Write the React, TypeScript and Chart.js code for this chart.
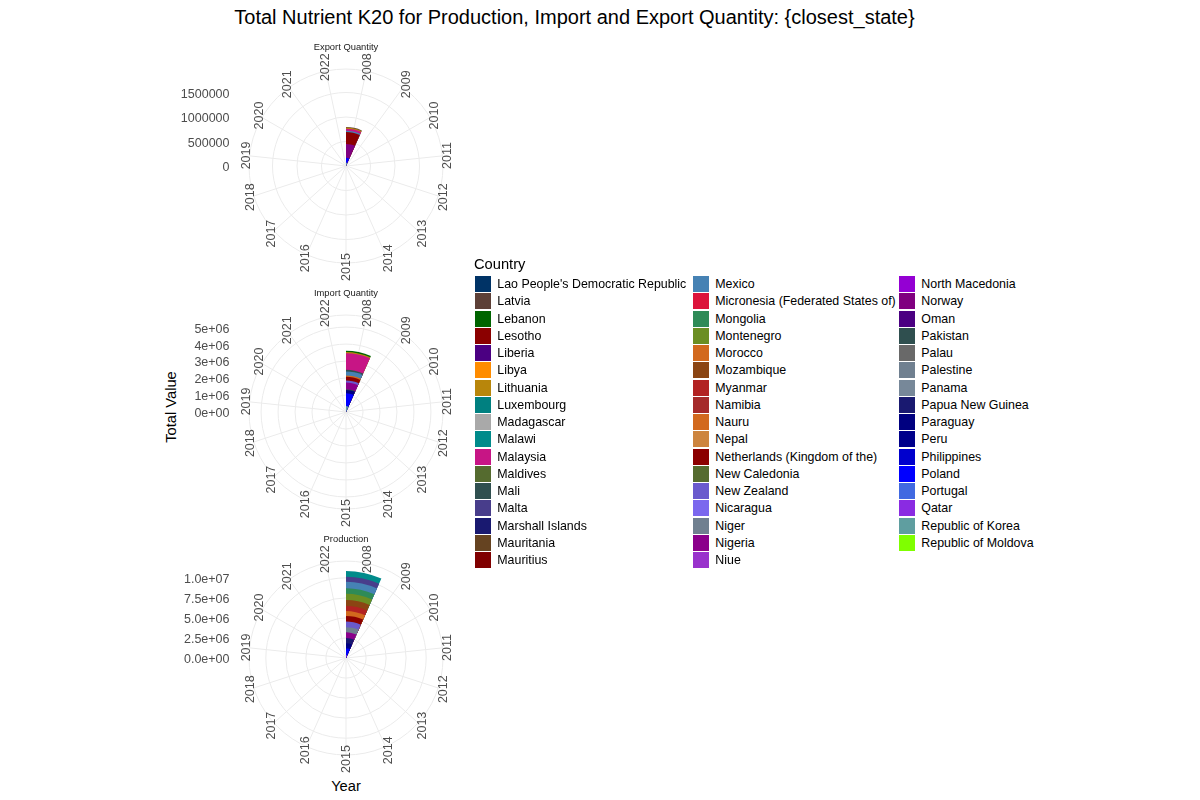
import React, { useEffect, useRef } from "react";
import { Chart, registerables } from "chart.js";

Chart.register(...registerables);

// ---------- data ----------
const years = ["2008", "2009", "2010", "2011", "2012", "2013", "2014", "2015", "2016", "2017", "2018", "2019", "2020", "2021", "2022"];
const dataYear = "2008";

const countries = [
  "Lao People's Democratic Republic", "Latvia", "Lebanon", "Lesotho", "Liberia", "Libya", "Lithuania", "Luxembourg", "Madagascar", "Malawi",
  "Malaysia", "Maldives", "Mali", "Malta", "Marshall Islands", "Mauritania", "Mauritius", "Mexico", "Micronesia (Federated States of)", "Mongolia",
  "Montenegro", "Morocco", "Mozambique", "Myanmar", "Namibia", "Nauru", "Nepal", "Netherlands (Kingdom of the)", "New Caledonia", "New Zealand",
  "Nicaragua", "Niger", "Nigeria", "Niue", "North Macedonia", "Norway", "Oman", "Pakistan", "Palau", "Palestine",
  "Panama", "Papua New Guinea", "Paraguay", "Peru", "Philippines", "Poland", "Portugal", "Qatar", "Republic of Korea", "Republic of Moldova",
];

const countryColors = [
  "#003366", "#5D4037", "#006400", "#8B0000", "#4B0082", "#FF8C00", "#B8860B", "#008080", "#A9A9A9", "#008B8B",
  "#C71585", "#556B2F", "#2F4F4F", "#483D8B", "#191970", "#654321", "#800000", "#4682B4", "#DC143C", "#2E8B57",
  "#6B8E23", "#D2691E", "#8B4513", "#B22222", "#A52A2A", "#D2691E", "#CD853F", "#8B0000", "#556B2F", "#6A5ACD",
  "#7B68EE", "#708090", "#8B008B", "#9932CC", "#9400D3", "#800080", "#4B0082", "#2F4F4F", "#696969", "#708090",
  "#778899", "#191970", "#000080", "#00008B", "#0000CD", "#0000FF", "#4169E1", "#8A2BE2", "#5F9EA0", "#7FFF00",
];

// 2008 values per country (same order as countries)
const exportValues = [
  0, 12000, 0, 0, 0, 0, 22000, 0, 0, 0,
  40000, 0, 0, 0, 0, 0, 0, 28000, 0, 0,
  0, 0, 0, 0, 0, 0, 0, 243000, 0, 0,
  0, 0, 0, 0, 0, 284000, 0, 0, 0, 0,
  0, 0, 0, 0, 0, 100000, 0, 0, 67000, 0,
];
const importValues = [
  0, 0, 80000, 0, 0, 0, 60000, 0, 0, 0,
  980000, 0, 100000, 0, 0, 0, 0, 235000, 0, 0,
  0, 80000, 0, 0, 0, 0, 0, 220000, 0, 120000,
  0, 0, 390000, 0, 0, 0, 0, 40000, 0, 0,
  0, 0, 200000, 0, 0, 750000, 0, 0, 350000, 0,
];
const productionValues = [
  0, 0, 0, 0, 0, 0, 0, 0, 0, 700000,
  0, 0, 0, 650000, 0, 0, 0, 800000, 0, 700000,
  750000, 0, 750000, 650000, 0, 600000, 0, 700000, 0, 700000,
  0, 650000, 700000, 0, 0, 0, 0, 0, 0, 0,
  0, 650000, 350000, 300000, 0, 850000, 0, 350000, 0, 0,
];

const exportTicks = [0, 500000, 1000000, 1500000];
const exportTickLabels = ["0", "500000", "1000000", "1500000"];
const exportRMax = 1980000;

const importTicks = [0, 1000000, 2000000, 3000000, 4000000, 5000000];
const importTickLabels = ["0e+00", "1e+06", "2e+06", "3e+06", "4e+06", "5e+06"];
const importRMax = 5710000;

const productionTicks = [0, 2500000, 5000000, 7500000, 10000000];
const productionTickLabels = ["0.0e+00", "2.5e+06", "5.0e+06", "7.5e+06", "1.0e+07"];
const productionRMax = 12100000;

// ---------- styling ----------
const FONT = "'Liberation Sans', Arial, sans-serif";
const GRID = "#EBEBEB";
const AXIS_TEXT = "#4D4D4D";

const CANVAS_LEFT = 150;
const CANVAS_W = 392;
const CANVAS_H = 250;
const PAD_X = 99;
const PAD_Y = 28;

type PanelProps = {
  title: string;
  values: number[];
  ticks: number[];
  tickLabels: string[];
  rMax: number;
  centerY: number;
};

function PolarPanel({ title, values, ticks, tickLabels, rMax, centerY }: PanelProps) {
  const ref = useRef<HTMLCanvasElement>(null);

  useEffect(() => {
    if (!ref.current) return;
    // stacked (cumulative from the centre): first country is outermost, as in ggplot
    const cum: number[] = new Array(countries.length).fill(0);
    let run = 0;
    for (let i = countries.length - 1; i >= 0; i--) {
      run += values[i];
      cum[i] = run;
    }
    const datasets = countries
      .map((c, i) => ({
        label: c,
        data: years.map((y) => (y === dataYear && values[i] > 0 ? cum[i] : 0)),
        backgroundColor: countryColors[i],
        borderWidth: 0,
      }))
      .reverse();

    const decor = {
      id: "decor",
      beforeDatasetsDraw(chart: any) {
        const s = chart.scales.r;
        const ctx = chart.ctx;
        const n = years.length;
        ctx.save();
        ctx.strokeStyle = GRID;
        ctx.lineWidth = 1;
        for (let k = 0; k < n; k++) {
          const a = ((k + 0.5) * 2 * Math.PI) / n;
          ctx.beginPath();
          ctx.moveTo(s.xCenter, s.yCenter);
          ctx.lineTo(s.xCenter + s.drawingArea * Math.sin(a), s.yCenter - s.drawingArea * Math.cos(a));
          ctx.stroke();
        }
        ctx.restore();
      },
      afterDraw(chart: any) {
        const s = chart.scales.r;
        const ctx = chart.ctx;
        const n = years.length;
        ctx.save();
        // theta labels (rotated 90°)
        ctx.fillStyle = AXIS_TEXT;
        ctx.font = `12.5px ${FONT}`;
        ctx.textAlign = "center";
        ctx.textBaseline = "middle";
        const R = s.drawingArea + 4;
        for (let k = 0; k < n; k++) {
          const a = ((k + 0.5) * 2 * Math.PI) / n;
          const x = s.xCenter + R * Math.sin(a) + 1;
          const y = s.yCenter - R * Math.cos(a);
          ctx.save();
          ctx.translate(x, y);
          ctx.rotate(-Math.PI / 2);
          ctx.fillText(years[k], 0, 0);
          ctx.restore();
        }
        // radial tick labels at the left
        ctx.textAlign = "right";
        ticks.forEach((v, i) => {
          const y = s.yCenter - s.getDistanceFromCenterForValue(v) + 2;
          ctx.fillText(tickLabels[i], 229.5 - CANVAS_LEFT, y);
        });
        // strip title
        ctx.fillStyle = "#1A1A1A";
        ctx.font = `9.4px ${FONT}`;
        ctx.textAlign = "center";
        ctx.fillText(title, s.xCenter, 6);
        ctx.restore();
      },
    };

    const chart = new Chart(ref.current, {
      type: "polarArea",
      data: { labels: years, datasets },
      options: {
        responsive: false,
        animation: false,
        layout: { padding: { left: PAD_X, right: PAD_X, top: PAD_Y, bottom: PAD_Y } },
        plugins: { legend: { display: false }, tooltip: { enabled: false } },
        scales: {
          r: {
            min: 0,
            max: rMax,
            startAngle: 0,
            ticks: { display: false },
            afterBuildTicks: (scale: any) => {
              scale.ticks = [...ticks, rMax].map((v) => ({ value: v }));
            },
            grid: { color: GRID, lineWidth: 1, circular: true },
            angleLines: { display: false },
            pointLabels: { display: false },
          },
        },
      } as any,
      plugins: [decor],
    });
    return () => chart.destroy();
  }, []);

  return (
    <canvas
      ref={ref}
      width={CANVAS_W}
      height={CANVAS_H}
      style={{ position: "absolute", left: CANVAS_LEFT, top: centerY - 125, width: CANVAS_W, height: CANVAS_H }}
    />
  );
}

const ROWS = 17;
const legendKeyX = [475, 693, 899];

function Legend() {
  return (
    <div>
      <div
        style={{ position: "absolute", left: 474, top: 264, transform: "translateY(-50%)", fontSize: 14.7, lineHeight: 1, color: "#000", whiteSpace: "nowrap" }}
      >
        Country
      </div>
      {countries.map((c, i) => {
        const col = Math.floor(i / ROWS);
        const row = i % ROWS;
        const top = 276 + row * 17.25;
        return (
          <React.Fragment key={c}>
            <div style={{ position: "absolute", left: legendKeyX[col], top, width: 16, height: 16, background: countryColors[i] }} />
            <div
              style={{ position: "absolute", left: legendKeyX[col] + 22.3, top: top + 8, transform: "translateY(-50%)", fontSize: 12.4, lineHeight: 1, color: "#000", whiteSpace: "nowrap" }}
            >
              {c}
            </div>
          </React.Fragment>
        );
      })}
    </div>
  );
}

export default function App() {
  return (
    <div style={{ position: "fixed", left: 0, top: 0, width: 1200, height: 800, background: "#fff", fontFamily: FONT, overflow: "hidden" }}>
      <div style={{ position: "absolute", left: 574.5, top: 17, transform: "translate(-50%,-50%)", fontSize: 20, lineHeight: 1, color: "#000", whiteSpace: "nowrap" }}>
        {"Total Nutrient K20 for Production, Import and Export Quantity: {closest_state}"}
      </div>
      <div style={{ position: "absolute", left: 171, top: 407, transform: "translate(-50%,-50%) rotate(-90deg)", fontSize: 14.7, lineHeight: 1, color: "#000", whiteSpace: "nowrap" }}>
        Total Value
      </div>
      <div style={{ position: "absolute", left: 346, top: 786, transform: "translate(-50%,-50%)", fontSize: 14.7, lineHeight: 1, color: "#000", whiteSpace: "nowrap" }}>
        Year
      </div>
      <PolarPanel title="Export Quantity" values={exportValues} ticks={exportTicks} tickLabels={exportTickLabels} rMax={exportRMax} centerY={166} />
      <PolarPanel title="Import Quantity" values={importValues} ticks={importTicks} tickLabels={importTickLabels} rMax={importRMax} centerY={412} />
      <PolarPanel title="Production" values={productionValues} ticks={productionTicks} tickLabels={productionTickLabels} rMax={productionRMax} centerY={658} />
      <Legend />
    </div>
  );
}
